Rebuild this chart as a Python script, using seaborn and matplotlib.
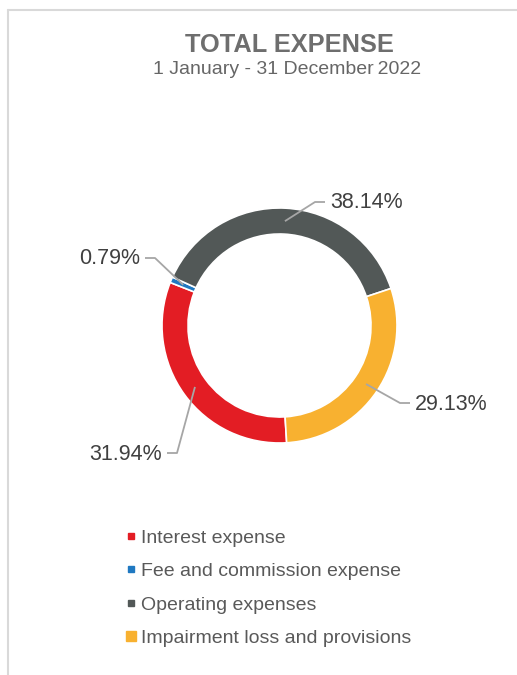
import numpy as np
import matplotlib
matplotlib.use("Agg")
import matplotlib.pyplot as plt
from matplotlib.lines import Line2D
import seaborn as sns

# data
categories = ["Interest expense", "Fee and commission expense",
              "Operating expenses", "Impairment loss and provisions"]
shares = [31.94, 0.79, 38.14, 29.13]
colors = ["#E31D24", "#1F78C1", "#525857", "#F8B130"]

title = "TOTAL EXPENSE"
subtitle = "1 January - 31 December\u20092022"

sns.set_theme(style="white")
plt.rcParams["font.family"] = ["Liberation Sans", "DejaVu Sans"]
palette = sns.color_palette(colors)

W, H = 517, 675
fig = plt.figure(figsize=(W / 100, H / 100), dpi=100)
ax = fig.add_axes([0, 0, 1, 1])

# donut (axes units = pixels, y up)
cx, cy, R, ring = 279.5, H - 325.5, 117.5, 26
wedges, _ = ax.pie(shares, colors=palette, startangle=-86.5, counterclock=False,
                   radius=R, center=(cx, cy),
                   wedgeprops=dict(width=ring, edgecolor="white", linewidth=1.2))

# leader lines + labels: knee point, direction of horizontal tail
label_layout = [
    ((177, H - 453), -1),
    ((155, H - 258), -1),
    ((315, H - 202), 1),
    ((400, H - 403), 1),
]
r_mid = R - ring / 2
for w, val, (knee, side) in zip(wedges, shares, label_layout):
    ang = np.deg2rad((w.theta1 + w.theta2) / 2)
    ax0, ay0 = cx + r_mid * np.cos(ang), cy + r_mid * np.sin(ang)
    kx, ky = knee
    ex = kx + side * 10
    ax.plot([ax0, kx, ex], [ay0, ky, ky], color="#A6A6A6", lw=1.3,
            solid_capstyle="butt", zorder=3)
    ax.text(ex + side * 5, ky - 1, f"{val:.2f}%", ha="left" if side > 0 else "right",
            va="center", fontsize=15.5, color="#404040")

# titles
ax.text(289, H - 45, title, ha="center", va="center", fontsize=18.3,
        fontweight="bold", color="#6E6E6E")
ax.text(287, H - 70, subtitle, ha="center", va="center", fontsize=14,
        color="#666666")

# chart border (top and left edges visible)
ax.plot([7.5, W], [H - 10, H - 10], color="#D9D9D9", lw=1.5, zorder=1)
ax.plot([7.5, 7.5], [H - 10, 0], color="#D9D9D9", lw=1.5, zorder=1)

ax.set_xlim(0, W)
ax.set_ylim(0, H)
ax.axis("off")

# legend
msizes = [5, 5, 5, 6.5]
handles = [Line2D([], [], marker="s", linestyle="", color=c, markersize=m)
           for c, m in zip(palette, msizes)]
fig.legend(handles, categories, loc="upper left",
           bbox_to_anchor=(125 / W, 1 - 529 / H), frameon=False,
           fontsize=14, labelcolor="#595959", handlelength=0.6,
           handletextpad=0.2, labelspacing=0.82, borderpad=0, borderaxespad=0)

fig.savefig("out.png", dpi=100)
